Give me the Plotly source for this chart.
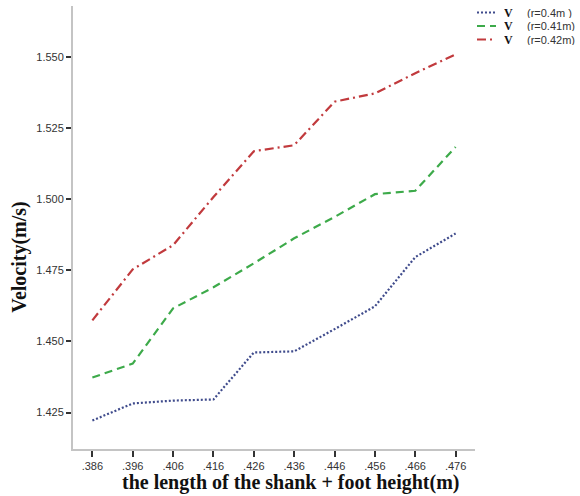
import plotly.graph_objects as go

# Shank + foot height (m) and walking velocity (m/s) for three radii
length_m = [0.386, 0.396, 0.406, 0.416, 0.426, 0.436, 0.446, 0.456, 0.466, 0.476]
tick_text = [".386", ".396", ".406", ".416", ".426", ".436", ".446", ".456", ".466", ".476"]

v_r040 = [1.4222, 1.4282, 1.4292, 1.4296, 1.4461, 1.4465, 1.4543, 1.4623, 1.4796, 1.4879]
v_r041 = [1.4373, 1.4422, 1.4616, 1.4690, 1.4774, 1.4862, 1.4937, 1.5017, 1.5029, 1.5183]
v_r042 = [1.4574, 1.4753, 1.4838, 1.5007, 1.5168, 1.5189, 1.5342, 1.5371, 1.5442, 1.5508]

radius_labels = ["(r=0.4m )", "(r=0.41m)", "(r=0.42m)"]

y_ticks = [1.425, 1.450, 1.475, 1.500, 1.525, 1.550]
y_tick_text = ["1.425", "1.450", "1.475", "1.500", "1.525", "1.550"]

colors = ["#3f4b8c", "#3daa4a", "#c13a3d"]
dashes = ["2px,2px", "8px,5px", "9px,4px,2px,4px"]

W, H = 580, 496
L, R, T, B = 73, 105, 6, 47
pw, ph = W - L - R, H - T - B


def px_x(p):
    return (p - L) / pw


def px_y(p):
    return 1 - (p - T) / ph


fig = go.Figure()
for label, vals, color, dash in zip(radius_labels, [v_r040, v_r041, v_r042], colors, dashes):
    fig.add_trace(go.Scatter(
        x=length_m, y=vals, mode="lines", name="V " + label, showlegend=False,
        line=dict(color=color, width=2.2, dash=dash),
    ))

# Compact key in the upper-right corner: line sample, bold "V", radius
shapes, annotations = [], []
row_y = [12.5, 26, 39.5]
for label, color, dash, ry in zip(radius_labels, colors, dashes, row_y):
    shapes.append(dict(type="line", xref="paper", yref="paper",
                       x0=px_x(477), x1=px_x(496), y0=px_y(ry), y1=px_y(ry),
                       line=dict(color=color, width=2.2, dash=dash)))
    annotations.append(dict(text="<b>V</b>", xref="paper", yref="paper",
                            x=px_x(503), y=px_y(ry), xanchor="left", yanchor="middle",
                            showarrow=False, height=11, borderpad=0,
                            font=dict(family="Liberation Serif", size=12, color="#111111")))
    annotations.append(dict(text=label, xref="paper", yref="paper",
                            x=px_x(526), y=px_y(ry), xanchor="left", yanchor="middle",
                            showarrow=False, height=11, borderpad=0,
                            font=dict(family="Liberation Sans", size=11, color="#333333")))

annotations += [
    dict(text="<b>the length of the shank + foot height(m)</b>",
         xref="paper", yref="paper", x=px_x(290.5), y=px_y(482),
         xanchor="center", yanchor="middle", showarrow=False,
         font=dict(family="Liberation Serif", size=20, color="#111111")),
    dict(text="<b>Velocity(m/s)</b>", textangle=-90,
         xref="paper", yref="paper", x=px_x(20), y=px_y(256.7),
         xanchor="center", yanchor="middle", showarrow=False,
         font=dict(family="Liberation Serif", size=20, color="#111111")),
]

axis_common = dict(
    showgrid=False, zeroline=False, showline=True,
    linecolor="#c4c4c4", linewidth=2,
    ticks="outside", tickcolor="#333333", tickwidth=1.5,
    tickfont=dict(family="Liberation Sans", size=11, color="#333333"),
)

fig.update_layout(
    width=W, height=H,
    margin=dict(l=L, r=R, t=T, b=B, autoexpand=False),
    paper_bgcolor="white", plot_bgcolor="white",
    xaxis=dict(range=[0.3812, 0.4808], tickvals=length_m, ticktext=tick_text,
               ticklen=6, **axis_common),
    yaxis=dict(range=[1.4122, 1.5678], tickvals=y_ticks, ticktext=y_tick_text,
               ticklen=5, **axis_common),
    showlegend=False,
    shapes=shapes,
    annotations=annotations,
)

fig.write_html("out.html")
